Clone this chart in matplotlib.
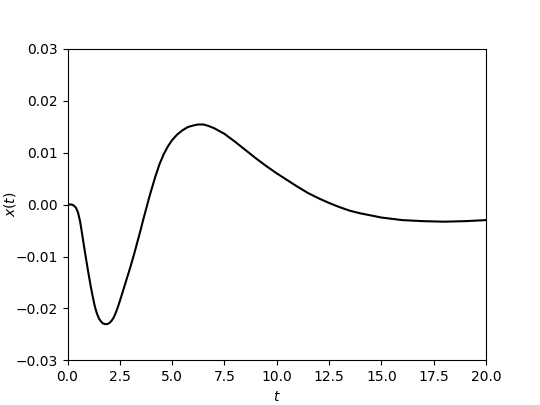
import matplotlib
matplotlib.use('Agg')
import matplotlib.pyplot as plt

# valores
t = [0, 0.2, 0.3, 0.4, 0.5, 0.6, 0.7, 0.8, 0.9, 1.0, 1.1, 1.2, 1.3, 1.4, 1.5,
     1.6, 1.7, 1.8, 1.9, 2.0, 2.1, 2.2, 2.3, 2.4, 2.5, 2.6, 2.7, 2.8, 2.9,
     3.0, 3.1, 3.2, 3.3, 3.4, 3.5, 3.6, 3.7, 3.8, 3.9, 4.0, 4.2, 4.4, 4.6,
     4.8, 5.0, 5.25, 5.5, 5.75, 6.0, 6.25, 6.5, 6.75, 7.0, 7.5, 8.0, 8.5,
     9.0, 9.5, 10.0, 10.5, 11.0, 11.5, 12.0, 12.5, 13.0, 13.5, 14.0, 15.0,
     16.0, 17.0, 18.0, 19.0, 20.0]
x = [0.0, 0.0, -0.0002, -0.0006, -0.0015, -0.0032, -0.0057, -0.0083,
     -0.0108, -0.0132, -0.0155, -0.0176, -0.0195, -0.0209, -0.0219, -0.0225,
     -0.0229, -0.0230, -0.0230, -0.0228, -0.0224, -0.0218, -0.0209, -0.0198,
     -0.0186, -0.0173, -0.0160, -0.0147, -0.0134, -0.0121, -0.0107, -0.0093,
     -0.0078, -0.0063, -0.0048, -0.0032, -0.0017, -0.0002, 0.0013, 0.0027,
     0.0054, 0.0078, 0.0097, 0.0112, 0.0124, 0.0135, 0.0143, 0.0149, 0.0152,
     0.0154, 0.0154, 0.0151, 0.0147, 0.0136, 0.0121, 0.0105, 0.0089, 0.0074,
     0.0060, 0.0047, 0.0034, 0.0022, 0.0012, 0.0003, -0.0005, -0.0012,
     -0.0017, -0.0025, -0.0030, -0.0032, -0.0033, -0.0032, -0.0030]

plt.figure(figsize=(5.4, 4.05), dpi=100)
plt.plot(t, x, color='black')
plt.xlim(0, 20)
plt.ylim(-0.03, 0.03)
plt.xlabel('$t$')
plt.ylabel('$x(t)$', labelpad=-2)
plt.savefig('out.png')
